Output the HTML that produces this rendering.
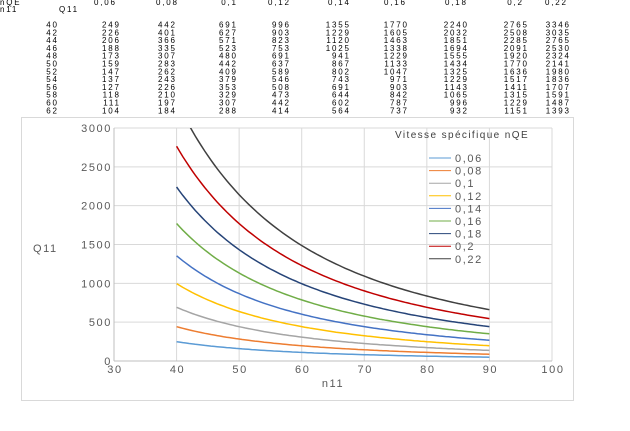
<!DOCTYPE html>
<html><head><meta charset="utf-8"><style>
body{margin:0;background:#fff;width:630px;height:426px;overflow:hidden;font-family:"Liberation Sans",sans-serif}
</style></head><body>
<svg id="s" width="630" height="426" xmlns="http://www.w3.org/2000/svg" font-family="Liberation Sans, sans-serif"></svg>
<script>
const s=document.getElementById('s');let h='';
const nq=['0,06','0,08','0,1','0,12','0,14','0,16','0,18','0,2','0,22'];
const data=[[40,249,442,691,996,1355,1770,2240,2765,3346],[42,226,401,627,903,1229,1605,2032,2508,3035],[44,206,366,571,823,1120,1463,1851,2285,2765],[46,188,335,523,753,1025,1338,1694,2091,2530],[48,173,307,480,691,941,1229,1555,1920,2324],[50,159,283,442,637,867,1133,1434,1770,2141],[52,147,262,409,589,802,1047,1325,1636,1980],[54,137,243,379,546,743,971,1229,1517,1836],[56,127,226,353,508,691,903,1143,1411,1707],[58,118,210,329,473,644,842,1065,1315,1591],[60,111,197,307,442,602,787,996,1229,1487],[62,104,184,288,414,564,737,932,1151,1393]];
const colEnd=[57,119,175,236,289,349,407,467,527,569];
const hdEnd=[115,177,236,289,349,405,466,522,566];
const ts='font-size="8" fill="#000" letter-spacing="1.8"';
h+=`<text x="0" y="5" ${ts}>nQE</text><text x="0" y="12" ${ts}>n11</text><text x="59" y="12" ${ts}>Q11</text>`;
nq.forEach((t,i)=>h+=`<text x="${hdEnd[i]+1.8}" y="5" text-anchor="end" ${ts}>${t}</text>`);
data.forEach((r,j)=>{const y=27.5+j*7.8;r.forEach((v,i)=>h+=`<text x="${colEnd[i]+1.8}" y="${y.toFixed(1)}" text-anchor="end" ${ts}>${v}</text>`)});
h+=`<rect x="21.5" y="117.5" width="552" height="283" fill="#fff" stroke="#d9d9d9"/>`;
const X=v=>114+(v-30)*6.257, Y=v=>361-v*233/3000;
for(let v=40;v<=100;v+=10)h+=`<line x1="${X(v)}" y1="128" x2="${X(v)}" y2="361" stroke="#d9d9d9"/>`;
for(let v=500;v<=3000;v+=500)h+=`<line x1="114" y1="${Y(v)}" x2="552" y2="${Y(v)}" stroke="#d9d9d9"/>`;
h+=`<line x1="114" y1="128" x2="114" y2="361" stroke="#bfbfbf"/><line x1="114" y1="361" x2="552" y2="361" stroke="#bfbfbf"/>`;
const lab='font-size="11" fill="#595959" letter-spacing="1.6"';
for(let v=0;v<=3000;v+=500)h+=`<text x="112" y="${Y(v)+4}" text-anchor="end" ${lab}>${v}</text>`;
for(let v=30;v<=100;v+=10)h+=`<text x="${X(v)+1}" y="373" text-anchor="middle" ${lab}>${v}</text>`;
h+=`<text x="33" y="252" ${lab}>Q11</text><text x="333" y="387" text-anchor="middle" ${lab}>n11</text>`;
const cols=['#5b9bd5','#ed7d31','#a5a5a5','#ffc000','#4472c4','#70ad47','#264478','#c00000','#404040'];
h+=`<defs><clipPath id="c"><rect x="114" y="128" width="440" height="234"/></clipPath></defs><g clip-path="url(#c)">`;
cols.forEach((c,i)=>{const q=data[0][i+1];let p=[];for(let n=40;n<=90;n+=0.5)p.push(X(n).toFixed(1)+','+Y(q*1600/(n*n)).toFixed(1));h+=`<polyline points="${p.join(' ')}" fill="none" stroke="${c}" stroke-width="1.5"/>`});
h+=`</g>`;
h+=`<text x="395" y="138" font-size="10" fill="#404040" letter-spacing="1.4">Vitesse spécifique nQE</text>`;
cols.forEach((c,i)=>{const y=158+i*12.6;h+=`<line x1="429" y1="${y}" x2="451" y2="${y}" stroke="${c}" stroke-width="1"/><text x="455" y="${y+4}" font-size="11" fill="#595959" letter-spacing="1.6">${nq[i]}</text>`});
s.innerHTML=h;
</script>
</body></html>
